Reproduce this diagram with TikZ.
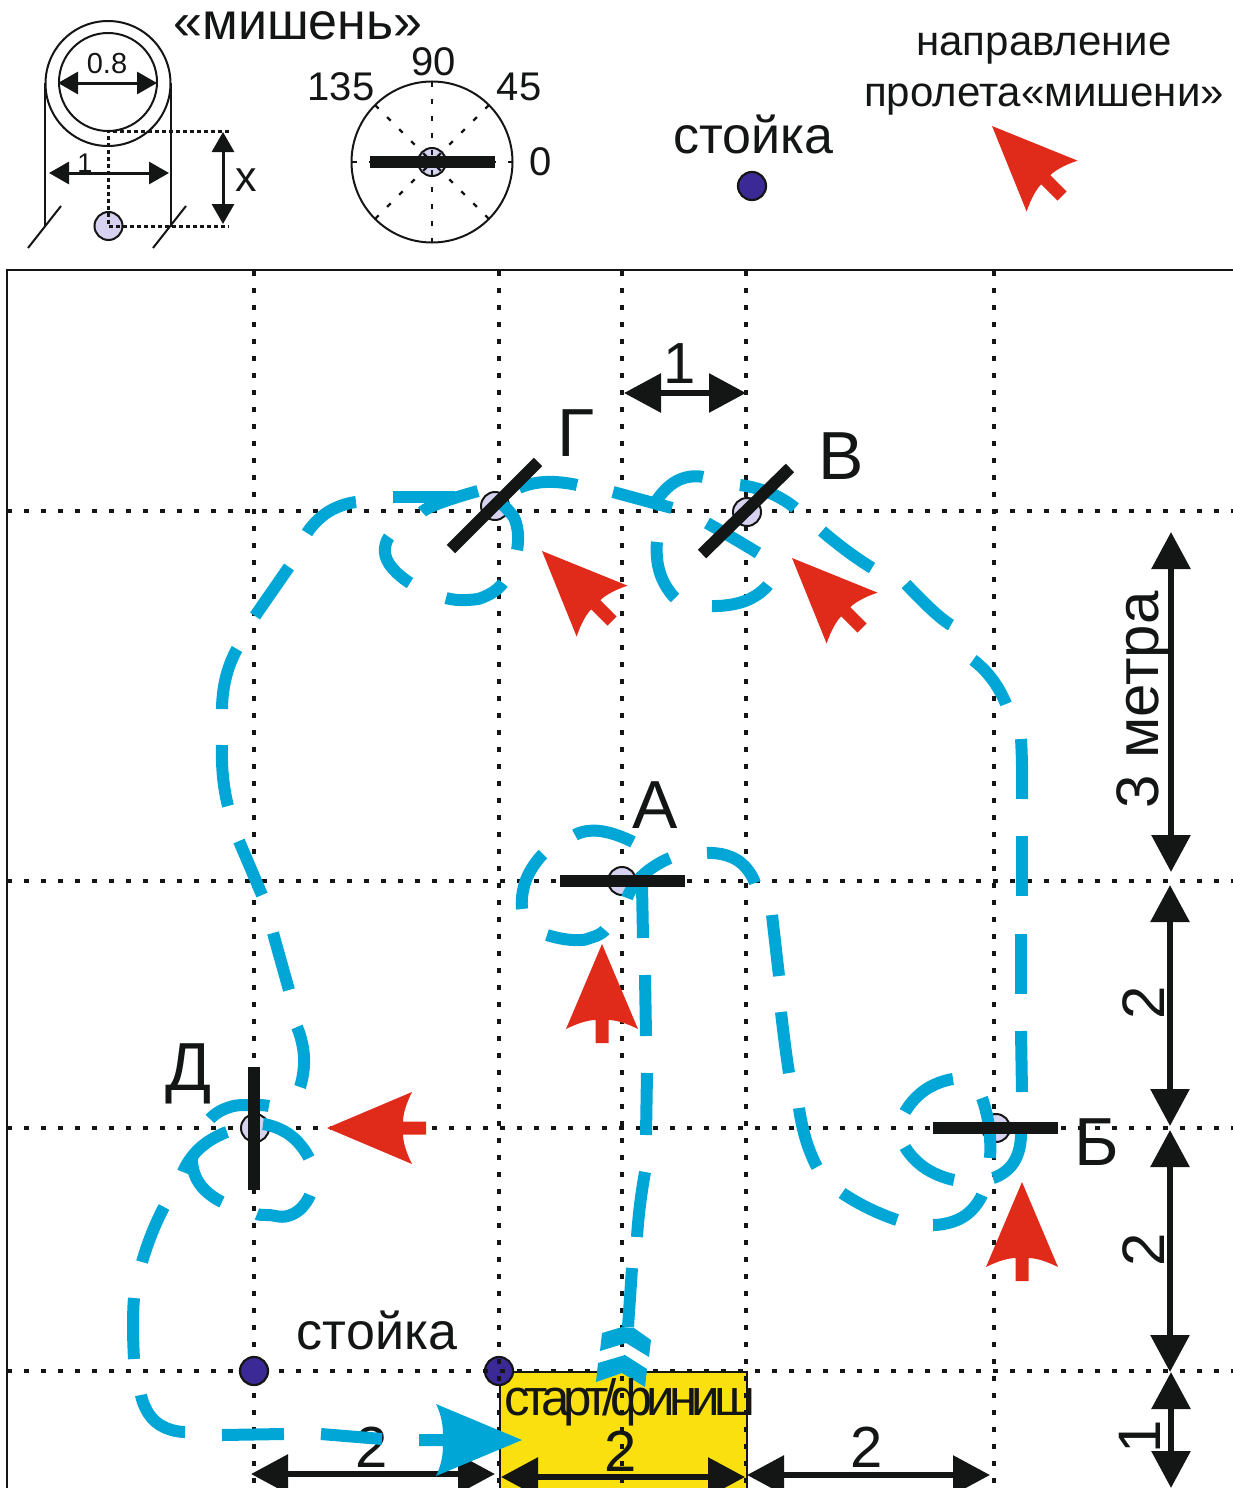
\documentclass[tikz,border=0pt]{standalone}
\usepackage{fontspec}
\setmainfont{Liberation Sans}
\usetikzlibrary{arrows.meta}
\definecolor{ink}{HTML}{141615}
\definecolor{skyb}{HTML}{00A6D6}
\definecolor{redf}{HTML}{E02B1A}
\definecolor{yell}{HTML}{FBE00F}
\definecolor{purp}{HTML}{3B2A96}
\definecolor{lav}{HTML}{D6D2F0}
\newcommand\fsz[1]{\fontsize{#1}{#1}\selectfont}
\newcommand\seg[1]{\draw[bluepath] plot[smooth,tension=1] coordinates {#1};}
\newcommand\redarr[2]{\fill[redf,shift={#1},rotate=#2] (0,0) -- (36,85) .. controls (22,78) and (12,76) .. (6.5,76) -- (6.5,99) -- (-6.5,99) -- (-6.5,76) .. controls (-12,76) and (-22,78) .. (-36,85) -- cycle;}
\tikzset{
  gridline/.style={ink,line width=3.4,dash pattern=on 5 off 12},
  bluepath/.style={skyb,line width=12},
  targetbar/.style={ink,line width=12},
  dimline/.style={ink,line width=6,{Triangle[length=37,width=38]}-{Triangle[length=37,width=38]}},
  smalldim/.style={ink,line width=3,{Triangle[length=20,width=22]}-{Triangle[length=20,width=22]}},
  thinline/.style={ink,line width=2},
  helper/.style={ink,line width=3,dash pattern=on 4 off 3},
  target/.style={circle,draw=ink,line width=2,fill=lav,minimum size=28,inner sep=0},
  post/.style={circle,draw=ink,line width=2.2,fill=purp,minimum size=28,inner sep=0},
  lbl/.style={anchor=base,text=ink,inner sep=0,outer sep=0},
}
\begin{document}
\begin{tikzpicture}[x=1pt,y=-1pt]
\useasboundingbox (0,0) rectangle (1233,1488);
% start box and field
\node[draw=ink,line width=1.5,fill=yell,anchor=north west,minimum width=247,minimum height=125,inner sep=0] (startbox) at (499,1371) {};
\node[post] (postR) at (499,1371) {};
\draw[ink,line width=2] (1233,270) coordinate (fa) -- (7,270) coordinate (fb) -- (7,1488) coordinate (fc);
\foreach \y/\n in {511/h1,881/h2,1128/h3,1371/h4}{
  \coordinate (\n l) at (7,\y); \coordinate (\n r) at (1233,\y);
  \draw[gridline] (\n l) -- (\n r);}
\foreach \x/\n in {254/v1,499/v2,622/v3,746/v4,994/v5}{
  \coordinate (\n t) at (\x,271); \coordinate (\n b) at (\x,1488);
  \draw[gridline] (\n t) -- (\n b);}
% posts and targets on the field
\node[post] (postL) at (254,1371) {};
\node[target] (tA) at (622,881) {};
\node[target] (tB) at (996,1128) {};
\node[target] (tV) at (747,512) {};
\node[target] (tG) at (495,506) {};
\node[target] (tD) at (255,1128) {};
% dimensions under the blue arrow
\coordinate (b1) at (251,1474); \coordinate (b2) at (495,1474);
\draw[dimline] (b1) -- (b2);
\node[lbl,font=\fsz{58}] (d2c) at (372,1467) {2};
% blue flight path: centre line
\seg{(628,1327)(632,1268)}
\seg{(637,1237)(640,1205)(645,1172)}
\seg{(646,1135)(647,1073)}
\seg{(646,1036)(645,975)}
\seg{(643,938)(642,885)}
% round A
\seg{(627,898)(643,875)(670,858)}
\seg{(522,909)(526,880)(543,854)}
\seg{(575,835)(600,831)(633,842)}
\seg{(547,935)(573,940)(593,937)(605,930)}
\seg{(707,853)(737,860)(755,883)}
\seg{(772,915)(779,976)}
\seg{(781,1012)(785,1045)(789,1073)}
\seg{(799,1108)(806,1140)(817,1167)}
\seg{(842,1193)(868,1208)(897,1220)}
\seg{(933,1225)(963,1217)(982,1195)}
\seg{(993,1178)(1014,1162)(1021,1133)}
\seg{(905,1147)(925,1168)(954,1180)}
\seg{(982,1098)(989,1127)(990,1158)}
\seg{(905,1112)(925,1090)(953,1079)}
% right side
\seg{(1022,1092)(1021,1031)}
\seg{(1021,994)(1021,934)}
\seg{(1022,896)(1022,836)}
\seg{(1022,799)(1022,766)(1021,739)}
\seg{(1006,704)(992,679)(973,660)}
\seg{(951,625)(933,611)(906,584)}
\seg{(872,568)(847,551)(822,531)}
\seg{(795,508)(770,493)(740,485)}
\seg{(758,553)(733,538)(707,523)}
\seg{(768,585)(745,601)(712,606)}
\seg{(675,598)(660,573)(657,542)}
\seg{(703,477)(675,482)(652,508)}
\seg{(672,508)(613,492)}
\seg{(577,485)(545,482)(519,488)}
\seg{(517,550)(517,527)(508,510)(497,502)}
\seg{(503,583)(488,595)(467,600)(446,598)}
\seg{(410,583)(387,560)(389,537)}
\seg{(478,491)(440,503)(422,512)}
\seg{(393,497)(455,497)}
% left side
\seg{(356,502)(328,512)(307,533)}
\seg{(289,567)(255,616)}
\seg{(237,649)(226,677)(222,709)}
\seg{(222,745)(223,777)(228,806)}
\seg{(239,841)(262,895)}
\seg{(273,933)(289,990)}
\seg{(297,1027)(304,1057)(300,1087)}
% round D
\seg{(210,1119)(227,1108)(250,1105)(269,1106)}
\seg{(263,1124)(290,1135)(309,1158)}
\seg{(310,1195)(293,1214)(267,1215)(257,1214)}
\seg{(222,1202)(199,1183)(192,1157)}
\seg{(183,1172)(200,1148)(227,1132)}
\seg{(164,1207)(152,1233)(142,1262)}
\seg{(134,1298)(133,1325)(134,1359)}
\seg{(141,1395)(156,1422)(185,1432)}
\seg{(222,1435)(284,1434)}
\seg{(321,1434)(382,1439)}
% blue arrow and chevrons
\fill[skyb] (419,1434) -- (443,1434) .. controls (443,1425) and (441,1414) .. (436,1404) -- (522,1440) -- (436,1476) .. controls (441,1466) and (443,1455) .. (443,1446) -- (419,1446) -- cycle;
\fill[skyb] (602,1333) -- (622,1327) -- (634,1328) -- (651,1340) -- (649,1357) -- (626,1343) -- (600,1351) -- cycle;
\fill[skyb] (598,1363) -- (625,1355) -- (647,1369) -- (645,1387) -- (622,1373) -- (596,1382) -- cycle;
% target bars
\coordinate (gA) at (538,462); \coordinate (gB) at (451,549);
\coordinate (vA) at (790,468); \coordinate (vB) at (702,554);
\coordinate (aA) at (560,881); \coordinate (aB) at (685,881);
\coordinate (bA) at (933,1128); \coordinate (bB) at (1058,1128);
\coordinate (dA) at (254,1067); \coordinate (dB) at (254,1190);
\draw[targetbar] (gA) -- (gB);
\draw[targetbar] (vA) -- (vB);
\draw[targetbar] (aA) -- (aB);
\draw[targetbar] (bA) -- (bB);
\draw[targetbar] (dA) -- (dB);
% red arrows
\redarr{(602,944)}{0}
\redarr{(1022,1182)}{0}
\redarr{(327,1128)}{90}
\redarr{(542,551)}{45}
\redarr{(792,558)}{45}
\redarr{(992,126)}{45}
% dimensions
\coordinate (dt1) at (624,393); \coordinate (dt2) at (746,393);
\draw[dimline] (dt1) -- (dt2);
\coordinate (r1) at (1171,532); \coordinate (r2) at (1171,872);
\coordinate (r3) at (1170,885); \coordinate (r4) at (1170,1126);
\coordinate (r5) at (1170,1130); \coordinate (r6) at (1170,1372);
\coordinate (r7) at (1171,1372); \coordinate (r8) at (1171,1488);
\draw[dimline] (r1) -- (r2);
\draw[dimline] (r3) -- (r4);
\draw[dimline] (r5) -- (r6);
\draw[dimline] (r7) -- (r8);
\coordinate (b3) at (501,1477); \coordinate (b4) at (745,1477);
\coordinate (b5) at (747,1475); \coordinate (b6) at (990,1475);
\draw[dimline] (b3) -- (b4);
\draw[dimline] (b5) -- (b6);
% legend: target sketch
\node[circle,draw=ink,line width=2,minimum size=125,inner sep=0] (ringO) at (108,83.5) {};
\node[circle,draw=ink,line width=2,minimum size=98,inner sep=0] (ringI) at (108,82) {};
\coordinate (lA) at (45,83); \coordinate (lB) at (45,227);
\coordinate (rA) at (171,83); \coordinate (rB) at (171,227);
\draw[thinline] (lA) -- (lB);
\draw[thinline] (rA) -- (rB);
\coordinate (sA) at (61,206); \coordinate (sB) at (28,248);
\coordinate (sC) at (186,206); \coordinate (sD) at (153,248);
\draw[thinline] (sA) -- (sB);
\draw[thinline] (sC) -- (sD);
\node[target] (lgT) at (108.5,226) {};
\coordinate (hA) at (108,131); \coordinate (hB) at (229,131);
\coordinate (hC) at (108,226); \coordinate (hD) at (229,226);
\draw[helper] (hB) -- (hA) -- (hC) -- (hD);
\coordinate (m1) at (58,83); \coordinate (m2) at (157,83);
\draw[smalldim] (m1) -- (m2);
\coordinate (m3) at (49,173); \coordinate (m4) at (169,173);
\draw[smalldim] (m3) -- (m4);
\coordinate (m5) at (223,132); \coordinate (m6) at (223,224);
\draw[smalldim] (m5) -- (m6);
% legend: compass
\node[circle,draw=ink,line width=2,minimum size=161,inner sep=0] (dial) at (432,162) {};
\node[target] (dialT) at (432,162) {};
\coordinate (dc) at (432,162);
\foreach \dx/\dy in {80.5/0,56.9/56.9,0/80.5,-56.9/56.9,-80.5/0,-56.9/-56.9,0/-80.5,56.9/-56.9}{
  \coordinate (de) at (432+\dx,162+\dy);
  \draw[ink,line width=2.4,dash pattern=on 5 off 12] (de) -- (dc);}
\coordinate (cA) at (370,162); \coordinate (cB) at (495,162);
\draw[targetbar] (cA) -- (cB);
% legend post
\node[post] (lgP) at (752,186) {};
% texts
\node[lbl,font=\fsz{52}] (tMish) at (298,40) {«мишень»};
\node[lbl,font=\fsz{40}] (t90) at (434,75) {90};
\node[lbl,font=\fsz{40}] (t135) at (341,100) {135};
\node[lbl,font=\fsz{40}] (t45) at (519,100) {45};
\node[lbl,font=\fsz{40}] (t0) at (541,175) {0};
\node[lbl,font=\fsz{29}] (t08) at (107,74) {0.8};
\node[lbl,font=\fsz{27}] (t1) at (85,172) {1};
\node[lbl,font=\fsz{43}] (tx) at (246,191) {x};
\node[lbl,font=\fsz{52}] (tSt) at (753,153) {стойка};
\node[lbl,font=\fsz{52}] (tStB) at (377,1349) {стойка};
\node[lbl,font=\fsz{42}] (tDir1) at (1044,56) {направление};
\node[lbl,font=\fsz{42}] (tDir2) at (1044,106) {пролета«мишени»};
\node[lbl,font=\fsz{68}] (tG1) at (576,456) {Г};
\node[lbl,font=\fsz{68}] (tV1) at (841,479) {В};
\node[lbl,font=\fsz{68}] (tA1) at (655,828) {А};
\node[lbl,font=\fsz{68}] (tB1) at (1097,1165) {Б};
\node[lbl,font=\fsz{68}] (tD1) at (189,1090) {Д};
\node[lbl,font=\fsz{58}] (d1t) at (680,383) {1};
\node[lbl,font=\fsz{60},rotate=90] (d3m) at (1158,700) {3 метра};
\node[lbl,font=\fsz{60},rotate=90] (d2a) at (1164,1003) {2};
\node[lbl,font=\fsz{60},rotate=90] (d2b) at (1164,1250) {2};
\node[lbl,font=\fsz{60},rotate=90] (d1r) at (1160,1437) {1};
\node[lbl,font=\fsz{58}] (d2d) at (621,1471) {2};
\node[lbl,font=\fsz{58}] (d2e) at (867,1467) {2};
\node[lbl,font={\fsz{51}\addfontfeature{LetterSpace=-11.5}}] (tStart) at (630,1415) {старт/финиш};
\end{tikzpicture}
\end{document}
